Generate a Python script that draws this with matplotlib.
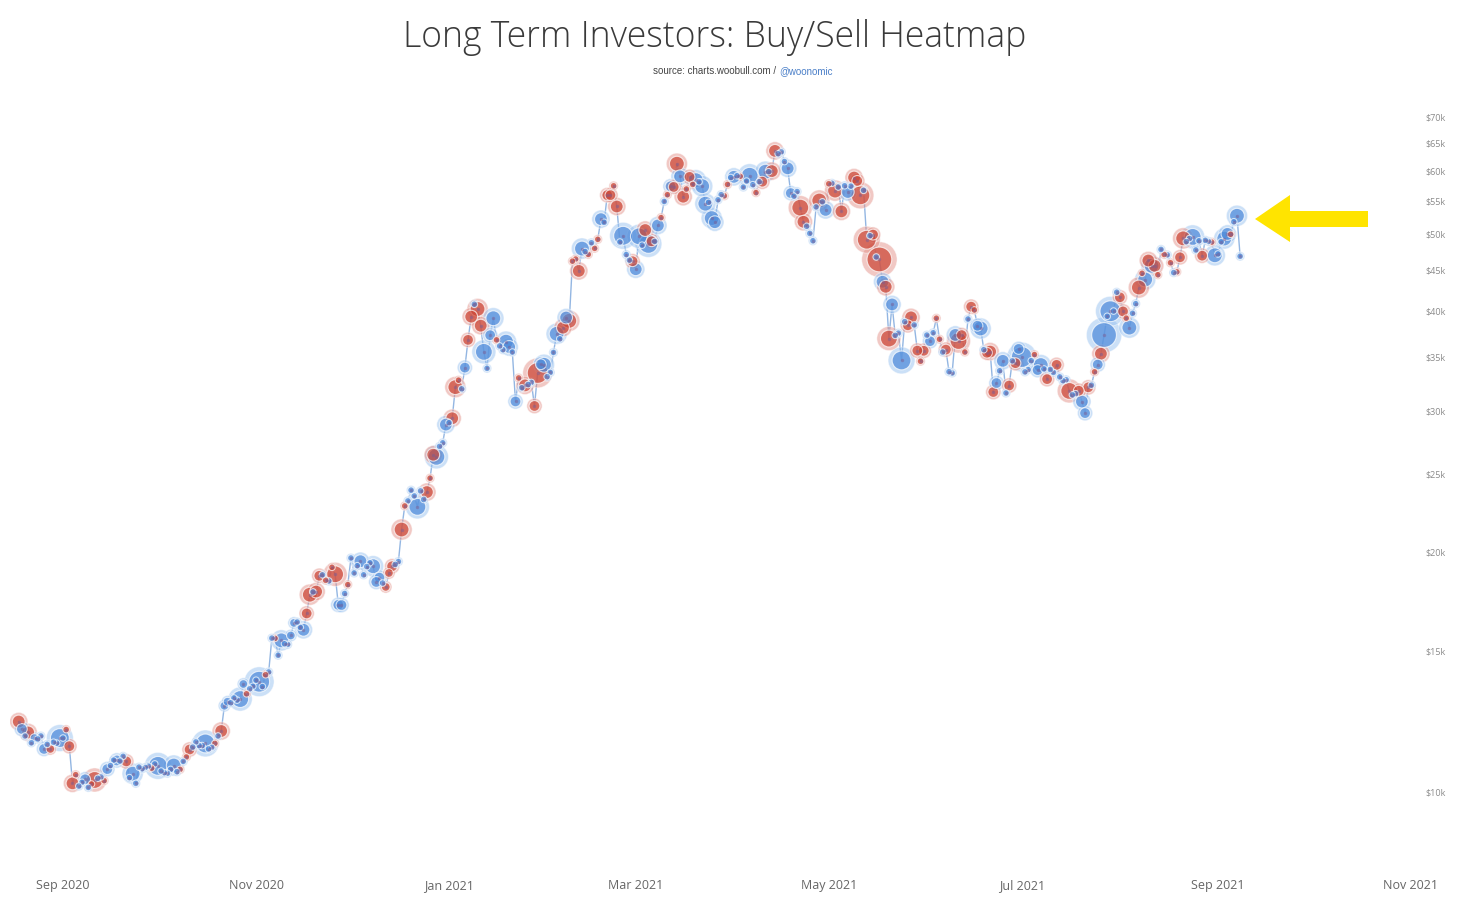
import numpy as np
import pandas as pd
import matplotlib
matplotlib.use('Agg')
import matplotlib.pyplot as plt
from matplotlib.patches import Polygon
from matplotlib.ticker import FixedLocator, NullLocator

# Daily BTC price in $k, 17 Aug 2020 .. 7 Sep 2021
price_k = [
    # Aug 17-31 2020
    12.25, 11.99, 11.75, 11.87, 11.52, 11.68, 11.65, 11.75, 11.32, 11.47, 11.32, 11.54, 11.51, 11.68, 11.68,
    # Sep
    11.97, 11.41, 10.25, 10.51, 10.17, 10.28, 10.37, 10.13, 10.23, 10.35, 10.40, 10.44, 10.33, 10.68, 10.79,
    10.96, 10.95, 10.93, 11.08, 10.92, 10.42, 10.54, 10.25, 10.74, 10.69, 10.73, 10.77, 10.71, 10.84, 10.78,
    # Oct
    10.62, 10.57, 10.55, 10.67, 10.79, 10.60, 10.67, 10.92, 11.06, 11.30, 11.38, 11.55, 11.43, 11.43, 11.50,
    11.32, 11.37, 11.50, 11.75, 11.92, 12.82, 12.97, 12.93, 13.11, 13.03, 13.07, 13.65, 13.27, 13.46, 13.56, 13.80,
    # Nov
    13.74, 13.55, 14.02, 14.13, 15.58, 15.57, 14.83, 15.48, 15.33, 15.30, 15.70, 16.28, 16.32, 16.07, 15.96,
    16.73, 17.66, 17.80, 17.82, 18.65, 18.70, 18.41, 18.37, 19.11, 18.73, 17.15, 17.14, 17.72, 18.18, 19.63,
    # Dec
    18.80, 19.20, 19.45, 18.70, 19.15, 19.36, 19.17, 18.32, 18.55, 18.26, 18.06, 18.80, 19.17, 19.27, 19.43,
    21.31, 22.81, 23.14, 23.87, 23.48, 22.75, 23.82, 23.24, 23.74, 24.71, 26.44, 26.28, 27.08, 27.36, 28.84, 29.00,
    # Jan 2021
    29.37, 32.13, 32.78, 31.97, 33.99, 36.82, 39.37, 40.80, 40.25, 38.36, 35.57, 33.92, 37.32, 39.19, 36.82,
    36.18, 35.79, 36.63, 36.07, 35.55, 30.83, 32.99, 32.07, 32.29, 32.37, 32.57, 30.43, 33.47, 34.32, 34.27, 33.11,
    # Feb
    33.52, 35.51, 37.47, 36.93, 38.14, 39.27, 38.90, 46.20, 46.48, 44.92, 47.91, 47.50, 47.11, 48.72,
    47.94, 49.20, 52.15, 51.68, 55.89, 55.89, 57.41, 54.09, 48.82, 49.71, 47.09, 46.34, 46.19, 45.14,
    # Mar
    49.63, 48.38, 50.54, 48.56, 48.93, 48.91, 51.21, 52.38, 54.88, 55.96, 57.33, 57.23, 61.19, 59.00, 55.64,
    56.88, 58.91, 57.64, 58.35, 58.09, 57.35, 54.53, 54.74, 52.31, 51.69, 55.14, 55.97, 55.78, 57.64, 58.80, 58.92,
    # Apr
    59.10, 59.00, 57.20, 58.20, 59.10, 57.60, 56.30, 58.10, 58.10, 59.80, 59.80, 59.90, 63.50, 62.97, 63.31,
    61.57, 60.38, 56.22, 55.72, 56.47, 53.91, 51.76, 51.09, 50.05, 49.00, 54.02, 55.03, 54.82, 53.56, 57.75,
    # May
    57.83, 56.63, 57.21, 53.33, 57.42, 56.40, 57.36, 58.80, 58.23, 55.86, 56.67, 49.15, 49.72, 49.88, 46.76,
    46.43, 43.54, 42.91, 36.96, 40.78, 37.30, 37.54, 34.70, 38.80, 38.40, 39.29, 38.44, 35.70, 34.62, 35.68, 37.33,
    # Jun
    36.68, 37.58, 39.19, 36.89, 35.55, 35.80, 33.59, 33.47, 37.35, 36.70, 37.33, 35.55, 39.10, 40.52, 40.14,
    38.35, 38.05, 35.79, 35.48, 35.60, 31.68, 32.51, 33.68, 34.66, 31.59, 32.28, 34.66, 34.43, 35.87, 35.04,
    # Jul
    33.57, 33.80, 34.67, 35.29, 33.75, 34.24, 33.86, 32.88, 33.81, 33.52, 34.26, 33.09, 32.73, 32.82, 31.78,
    31.42, 31.53, 31.80, 30.82, 29.81, 32.11, 32.31, 33.58, 34.29, 35.38, 37.34, 39.41, 39.99, 40.01, 42.24, 41.63,
    # Aug
    39.97, 39.20, 38.15, 39.75, 40.87, 42.82, 44.61, 43.82, 46.29, 45.60, 45.59, 44.43, 47.79, 47.10, 47.05,
    45.99, 44.70, 44.80, 46.72, 49.34, 48.87, 49.32, 49.55, 47.71, 48.99, 46.94, 49.06, 48.90, 48.81, 46.99, 47.17,
    # Sep 1-7
    48.85, 49.32, 49.98, 49.92, 51.76, 52.66, 46.86,
]

# Long term holder flow: >0 buying (blue), <0 selling (red), magnitude = bubble size
lth_flow = [
    -2.5, 2, 1, -2.5, 1, 1.5, 1, 1, 2, 1,
    -1.5, 1, 1, 4, 1, -1, -2, -2.5, -1, 1,
    1, 2, 1, -1, -3.5, 1, 1, -1, 2, 1,
    1, 2, 1, 1, -2, 1, 3, 1, 1, 1,
    1, 1, -1, 1, 4, 1, 1, 1, 1, 3,
    1, -1, 1, -1, -2, 1, 1, 1, 1, 4,
    1, 1, -1, 1, -2.5, 1.5, 1.5, 1, 1, 1,
    3.5, 1.5, -1, 1, 1, 1, 4.5, 1, -1, 1,
    1, -1, 1, 3, 1, 1, 1.5, 1.5, 1, 1,
    2.5, -2, -3, 1, -2.5, -2, 1, -1, 1, -1,
    -3.5, 2, 2, 1, -1, 1, 1, 1, 2.5, 1,
    1, 1, 3, 2, 2, 1, -1.5, -1.5, -2, 1,
    1, -3, -1, 1, 1, 1, 3.5, 1, 1, -2.5,
    -1, -2.5, 3.5, 1, 1, 2.5, 1, -2.5, -3, -1,
    1, 2, -2, -2.5, 1, -3, -2.5, 3.5, 1, 2,
    3, -1, 1, 1, 3, 2.5, 1, 2, -1, 1,
    -2.5, 1, 1, -2, -4.5, 2, 3, 1, 1, 1,
    3, 1, -2.5, 2.5, -3, -1, -1, -2.5, 3, 1,
    -1, 1, -1, -1, 2.5, 1, -2, -2, -1, -2.5,
    1, 4, 1, 1, -2, 2.5, 3.5, 1, -2.5, 4,
    -2, 1, 2.5, -1, 1, -1, 2, -2, -3, 2.5,
    -2.5, -1, -2, -1, 3, 1, 3, 3, 1, 3,
    2.5, 1, 1, -1, -1, 1, 2.5, 1, -1, 1,
    1, 3.5, 1, -1, 1, -2, 3, 1, -2.5, -2.5,
    1, 1, 1, 2.5, 2, 1, 1, -3.5, -2.5, 1,
    1, 1, 1, -3, 1, 2.5, -1, 1, -3, 1,
    -2.5, 1, 2.5, 1, -2.5, -2, -4, 1, -4, 1,
    -2, 1, -5.5, 2.5, -2.5, -3.5, 2.5, 1, 1, 4,
    1, -2, -2.5, 1, -2, -1, -2, 1, 2, 1,
    -1, -1, 1, -2, 1, 1, 2.5, -3.5, -2, -1,
    1, -2, -1, 2, 3, 1, -2, -2.5, -2, 2,
    1, 2.5, 1, -2, 1, -2, 2, 4.5, 1, 1,
    1, -1, 2, 3, 1, -2, 1, 1, -2, 1,
    1, 1, -3.5, 1, 1, -2, 2.5, 2, -2, 1,
    -1, 2, -2.5, 5.5, 1, 4.5, 1, 1, -2, -2,
    -1, 3, 1, 1, -3, -1, 3, -2.5, 3, -2.5,
    -1, 1, -1, 1, -1, 1, -1, -2, -3, 1,
    1, 3.5, 1, 1, -2, 1, 1, -1, 3, 1,
    1, 3, 2.5, -1, 1, 3, 1,
]

# chart timestamps sit about one day after the daily close
start_date = '2020-08-18'
y_ticks_k = [10, 15, 20, 25, 30, 35, 40, 45, 50, 55, 60, 65, 70]
x_tick_dates = ['2020-09-01', '2020-11-01', '2021-01-01', '2021-03-01',
                '2021-05-01', '2021-07-01', '2021-09-01', '2021-11-01']

df = pd.DataFrame({'price': np.array(price_k) * 1000, 'flow': lth_flow})
df['date'] = pd.date_range(start_date, periods=len(df), freq='D')

W, H = 1472, 907
fig = plt.figure(figsize=(W / 100, H / 100), dpi=100)
fig.patch.set_facecolor('white')

# axes box in pixels
left, right, top, bottom = 10, 1420, 95, 868
ax = fig.add_axes([left / W, 1 - bottom / H, (right - left) / W, (bottom - top) / H])

RED, RED_L = '#cc4636', '#e4938a'
BLUE, BLUE_L = '#4f8bda', '#99c2f0'

ax.plot(df['date'], df['price'], color='#93b6e2', lw=1.0, zorder=1)

mag = df['flow'].abs().values
diam = 3 + 6.4 * mag ** 0.95          # px
s_outer = (diam * 0.72) ** 2
s_inner = (diam * 0.72 * 0.7) ** 2
buy = df['flow'].values > 0
outer_c = np.where(buy, BLUE_L, RED_L)
inner_c = np.where(buy, BLUE, RED)

# big bubbles first so small ones stay visible
order = np.argsort(-mag)
d = df['date'].values[order]
p = df['price'].values[order]
ax.scatter(d, p, s=s_outer[order], c=outer_c[order], alpha=0.5,
           edgecolors='white', linewidths=0.6, zorder=2)
ax.scatter(d, p, s=s_inner[order], c=inner_c[order], alpha=0.72,
           edgecolors='white', linewidths=0.8, zorder=3)
ax.scatter(df['date'], df['price'], s=6, c='#7a5d92', alpha=0.5,
           linewidths=0, zorder=4)

ax.set_yscale('log')
ax.set_ylim(8030, 74600)
x0 = pd.Timestamp('2020-09-01') - pd.Timedelta(days=(63 - left) / 3.164)
x1 = pd.Timestamp('2021-11-01') + pd.Timedelta(days=(right - 1411) / 3.164)
ax.set_xlim(x0, x1)

for sp in ax.spines.values():
    sp.set_visible(False)

ax.yaxis.tick_right()
ax.yaxis.set_major_locator(FixedLocator([v * 1000 for v in y_ticks_k]))
ax.yaxis.set_minor_locator(NullLocator())
ax.set_yticklabels([f'${v}k' for v in y_ticks_k])
ax.tick_params(axis='y', length=0, pad=4, labelsize=6.5, labelcolor='#8a8a8a')
for t in ax.get_yticklabels():
    t.set_fontfamily('Open Sans')

xt = pd.to_datetime(x_tick_dates)
ax.set_xticks(xt)
ax.set_xticklabels([d.strftime('%b %Y') for d in xt])
ax.tick_params(axis='x', length=0, pad=8, labelsize=9, labelcolor='#666666')
for t in ax.get_xticklabels():
    t.set_fontfamily('Open Sans')

# title + source
fig.text(715 / W, 1 - 38 / H, 'Long Term Investors: Buy/Sell Heatmap',
         ha='center', va='center', fontsize=25.6, family='Open Sans',
         fontweight='light', color='#3a3a3a')
fig.text(776 / W, 1 - 71 / H, 'source: charts.woobull.com /', ha='right', va='center',
         fontsize=7, family='Liberation Sans', color='#444444')
fig.text(779 / W, 1 - 71 / H, '@woonomic', ha='left', va='center',
         fontsize=7, family='Liberation Sans', color='#4a7fc8')

# yellow arrow pointing at the latest price
arrow_px = [(1255, 219), (1290, 195), (1290, 211), (1368, 211),
            (1368, 227), (1290, 227), (1290, 242)]
fig.patches.append(Polygon([(x / W, 1 - y / H) for x, y in arrow_px], closed=True,
                           transform=fig.transFigure, facecolor='#ffe400',
                           edgecolor='none', zorder=5))

fig.savefig('out.png', dpi=100, facecolor='white')
